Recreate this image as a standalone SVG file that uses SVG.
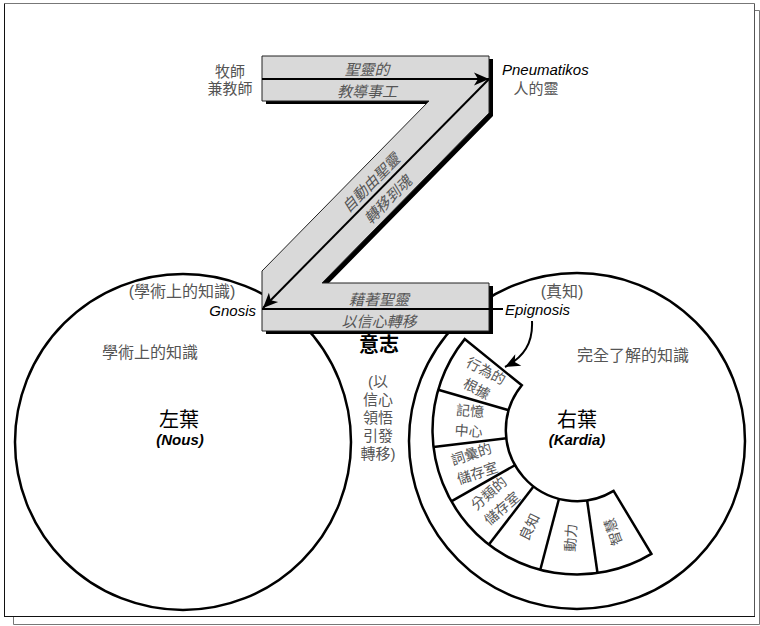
<svg xmlns="http://www.w3.org/2000/svg" width="760" height="626" viewBox="0 0 760 626">
<defs>
<marker id="ah" viewBox="-16 -8 17 16" refX="0" refY="0" markerWidth="17" markerHeight="16" markerUnits="userSpaceOnUse" orient="auto"><path d="M0,0 L-15,-6.5 L-11,0 L-15,6.5 Z" fill="#000"/></marker>
<style>
text{font-family:"Liberation Sans","Noto Sans CJK TC",sans-serif;}
.gc{fill:#555;font-size:15px;text-anchor:middle}
.gl{fill:#555;font-size:16px;text-anchor:middle}
.it{font-style:italic}
.lat{fill:#000;font-size:15px;font-style:italic}
.big{fill:#000;font-size:20px;text-anchor:middle}
.bi{fill:#000;font-size:15px;font-weight:bold;font-style:italic;text-anchor:middle}
.seg{fill:#555;font-size:14px;text-anchor:middle}
.ln{fill:none;stroke:#000;stroke-width:2}
.circ{fill:#fff;stroke:#000;stroke-width:2.5}
</style>
</defs>
<rect width="760" height="626" fill="#fff"/>
<g id="frame" fill="none" stroke-width="1">
<line x1="4.5" y1="3.5" x2="754.5" y2="3.5" stroke="#777"/>
<line x1="754.5" y1="3.5" x2="754.5" y2="617" stroke="#555"/>
<line x1="4.5" y1="3.5" x2="4.5" y2="617" stroke="#111"/>
<line x1="4.5" y1="616.5" x2="755" y2="616.5" stroke="#111"/>
<polyline points="755,10.5 759.5,10.5 759.5,624.5 13.5,624.5 13.5,617" stroke="#777"/>
</g>
<g id="left-lobe">
<circle cx="183" cy="442" r="168" class="circ"/>
<text x="182" y="297" class="gl">(學術上的知識)</text>
<text x="150" y="358" class="gl">學術上的知識</text>
<text x="179" y="427" class="big">左葉</text>
<text x="180" y="445" class="bi">(Nous)</text>
</g>
<g id="right-lobe">
<circle cx="577" cy="441" r="168" class="circ"/>
<path d="M464.7,339.1 A144.5,144.5 0 0 0 651.4,553.9 L613.6,490.9 A71,71 0 0 1 521.8,385.3 Z" fill="#fff" stroke="#000" stroke-width="2.5" stroke-linejoin="miter"/>
<g stroke="#000" stroke-width="2.5">
<line x1="587.1" y1="500.3" x2="597.5" y2="573.0"/>
<line x1="559.0" y1="498.7" x2="540.3" y2="569.8"/>
<line x1="533.7" y1="486.3" x2="488.9" y2="544.5"/>
<line x1="515.3" y1="465.0" x2="451.3" y2="501.3"/>
<line x1="506.5" y1="438.3" x2="433.5" y2="446.9"/>
<line x1="508.8" y1="410.3" x2="438.2" y2="389.8"/>
</g>
<g transform="translate(481.3,380) rotate(27.57)"><text class="seg" y="-5">行為的</text><text class="seg" y="15">根據</text></g>
<g transform="translate(469.4,421.1) rotate(4.71)"><text class="seg" y="-5">記憶</text><text class="seg" y="15">中心</text></g>
<g transform="translate(474.4,463.6) rotate(-18.14)"><text class="seg" y="-5">詞彙的</text><text class="seg" y="15">儲存室</text></g>
<g transform="translate(495.5,500.9) rotate(-41)"><text class="seg" y="-5">分類的</text><text class="seg" y="15">儲存室</text></g>
<g transform="translate(529.4,527) rotate(-63.86)"><text class="seg" y="5">良知</text></g>
<g transform="translate(570.8,537.8) rotate(-86.71)"><text class="seg" y="5">動力</text></g>
<g transform="translate(613.2,531.8) rotate(-109.57)"><text class="seg" y="5">智慧</text></g>
<text x="562" y="297" class="gl">(真知)</text>
<text x="633" y="361" class="gl">完全了解的知識</text>
<text x="577" y="427" class="big">右葉</text>
<text x="577" y="445" class="bi">(Kardia)</text>
</g>
<g id="z-channel">
<polygon points="266,59 493,59 493,116 326,286 493,286 493,334 266,334 266,274 433,104 266,104" fill="#000"/>
<polygon points="262,56 489,56 489,113 322,283 489,283 489,331 262,331 262,271 429,101 262,101" fill="#d9d9d9" stroke="#222" stroke-width="1"/>
<text x="367" y="75" class="gc it">聖靈的</text>
<text x="367" y="97" class="gc it">教導事工</text>
<g transform="translate(379,191) rotate(-45.4)"><text class="gc it" y="-6">自動由聖靈</text><text class="gc it" y="18">轉移到魂</text></g>
<text x="379" y="305" class="gc it">藉著聖靈</text>
<text x="379" y="327" class="gc it">以信心轉移</text>
</g>
<g id="connectors">
<line x1="262" y1="79" x2="489" y2="79" class="ln" marker-end="url(#ah)"/>
<line x1="489" y1="79" x2="263" y2="308" class="ln" marker-end="url(#ah)"/>
<line x1="262" y1="309" x2="503" y2="309" class="ln"/>
<path d="M532,321 C533,343 524,357 505,367" class="ln" marker-end="url(#ah)"/>
</g>
<g id="pastor">
<text x="230" y="77" class="gc">牧師</text>
<text x="230" y="94" class="gc">兼教師</text>
</g>
<g id="pneumatikos">
<text x="502" y="75" class="lat">Pneumatikos</text>
<text x="536" y="94" class="gc" font-size="13">人的靈</text>
</g>
<g id="gnosis"><text x="256" y="316" class="lat" text-anchor="end">Gnosis</text></g>
<g id="epignosis"><text x="505" y="315" class="lat">Epignosis</text></g>
<g id="will">
<text x="379" y="352" class="big" font-weight="bold">意志</text>
<text x="378" y="387" class="gc">(以</text>
<text x="378" y="405" class="gc">信心</text>
<text x="378" y="423" class="gc">領悟</text>
<text x="378" y="441" class="gc">引發</text>
<text x="378" y="459" class="gc">轉移)</text>
</g>
</svg>
